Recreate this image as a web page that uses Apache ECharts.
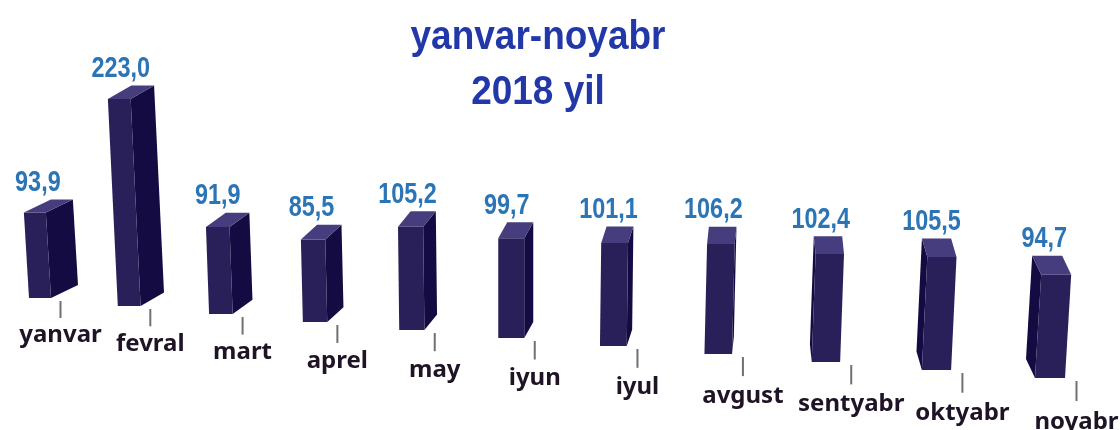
<!DOCTYPE html>
<html>
<head>
<meta charset="utf-8">
<script src="https://cdn.jsdelivr.net/npm/echarts@6/dist/echarts.min.js"></script>
<style>
  html, body { margin: 0; padding: 0; background: #fff; }
  #main { width: 1120px; height: 430px; }
</style>
</head>
<body>
<div id="main"></div>
<script>
// oylar va qiymatlar
var months = ['yanvar', 'fevral', 'mart', 'aprel', 'may', 'iyun', 'iyul', 'avgust', 'sentyabr', 'oktyabr', 'noyabr'];
var values = [93.9, 223.0, 91.9, 85.5, 105.2, 99.7, 101.1, 106.2, 102.4, 105.5, 94.7];
var valueLabels = ['93,9', '223,0', '91,9', '85,5', '105,2', '99,7', '101,1', '106,2', '102,4', '105,5', '94,7'];

var chart = echarts.init(document.getElementById('main'));

// soddalashtirilgan perspektiva: har bir ustun uchun o'lcham va siljish
function renderBar(params, api) {
    var i = api.value(0);
    var v = api.value(1);
    var p0 = api.coord([i, 0]);
    var p1 = api.coord([i, v]);

    var bx = p0[0] + 1.2 * i * i + 0.01 * i * i * i;
    var by = p0[1] + 8 * i;
    var s = 0.91 + 0.018 * i;
    var h = (p0[1] - p1[1]) * s;
    var w = 22 + 0.8 * i;
    var lean = h * (0.06 - 0.012 * i);
    var tx = bx - lean;
    var ty = by - h;
    var dx = 27 - 3.6 * i;
    var dy = -13 - 0.6 * i;

    var sx = dx >= 0 ? w / 2 : -w / 2;
    var side = [[bx + sx, by], [bx + sx + dx, by + dy], [tx + sx + dx, ty + dy], [tx + sx, ty]];
    var front = [[bx - w / 2, by], [bx + w / 2, by], [tx + w / 2, ty], [tx - w / 2, ty]];
    var top = [[tx - w / 2, ty], [tx + w / 2, ty], [tx + w / 2 + dx, ty + dy], [tx - w / 2 + dx, ty + dy]];

    var tickX = bx + 20.5 + 0.6 * i;
    var tickY = by + 3;

    return {
        type: 'group',
        children: [
            { type: 'polygon', shape: { points: side }, style: { fill: '#140b42' } },
            { type: 'polygon', shape: { points: front }, style: { fill: '#2a2059' } },
            { type: 'polygon', shape: { points: top }, style: { fill: '#463d7e' } },
            {
                type: 'line',
                shape: { x1: tickX, y1: tickY, x2: tickX, y2: tickY + 17 + 0.3 * i },
                style: { stroke: '#707070', lineWidth: 2 }
            },
            {
                type: 'text',
                x: tx + 3 - 1.5 * i, y: ty + dy - 17,
                scaleX: 0.78,
                style: {
                    text: valueLabels[i],
                    x: 0, y: 0,
                    align: 'center', verticalAlign: 'middle',
                    fill: '#2b74b5',
                    fontSize: 30, fontWeight: 'bold',
                    fontFamily: "'Liberation Sans', Arial, sans-serif"
                }
            },
            {
                type: 'text',
                x: tickX, y: by + 37 + 0.7 * i,
                style: {
                    text: months[i],
                    x: 0, y: 0,
                    align: 'center', verticalAlign: 'middle',
                    fill: '#1f1426',
                    fontSize: 24, fontWeight: 'bold',
                    fontFamily: "'Noto Sans', 'Open Sans', sans-serif"
                }
            }
        ]
    };
}

chart.setOption({
    animation: false,
    backgroundColor: '#fff',
    graphic: [{
        type: 'text',
        x: 538, y: 10,
        scaleY: 1.12,
        style: {
            text: 'yanvar-noyabr\n2018 yil',
            x: 0, y: 0,
            align: 'center', verticalAlign: 'top',
            lineHeight: 49,
            fill: '#2338a8',
            fontSize: 37, fontWeight: 'bold',
            fontFamily: "'Liberation Sans', Arial, sans-serif"
        }
    }],
    grid: { left: 40, right: 200, top: 48, bottom: 132 },
    xAxis: {
        type: 'category',
        data: months,
        boundaryGap: false,
        show: false
    },
    yAxis: {
        type: 'value',
        min: 0,
        max: 250,
        show: false
    },
    series: [{
        type: 'custom',
        clip: false,
        renderItem: renderBar,
        encode: { x: 0, y: 1 },
        data: values.map(function (v, i) { return [i, v]; })
    }]
});
</script>
</body>
</html>
